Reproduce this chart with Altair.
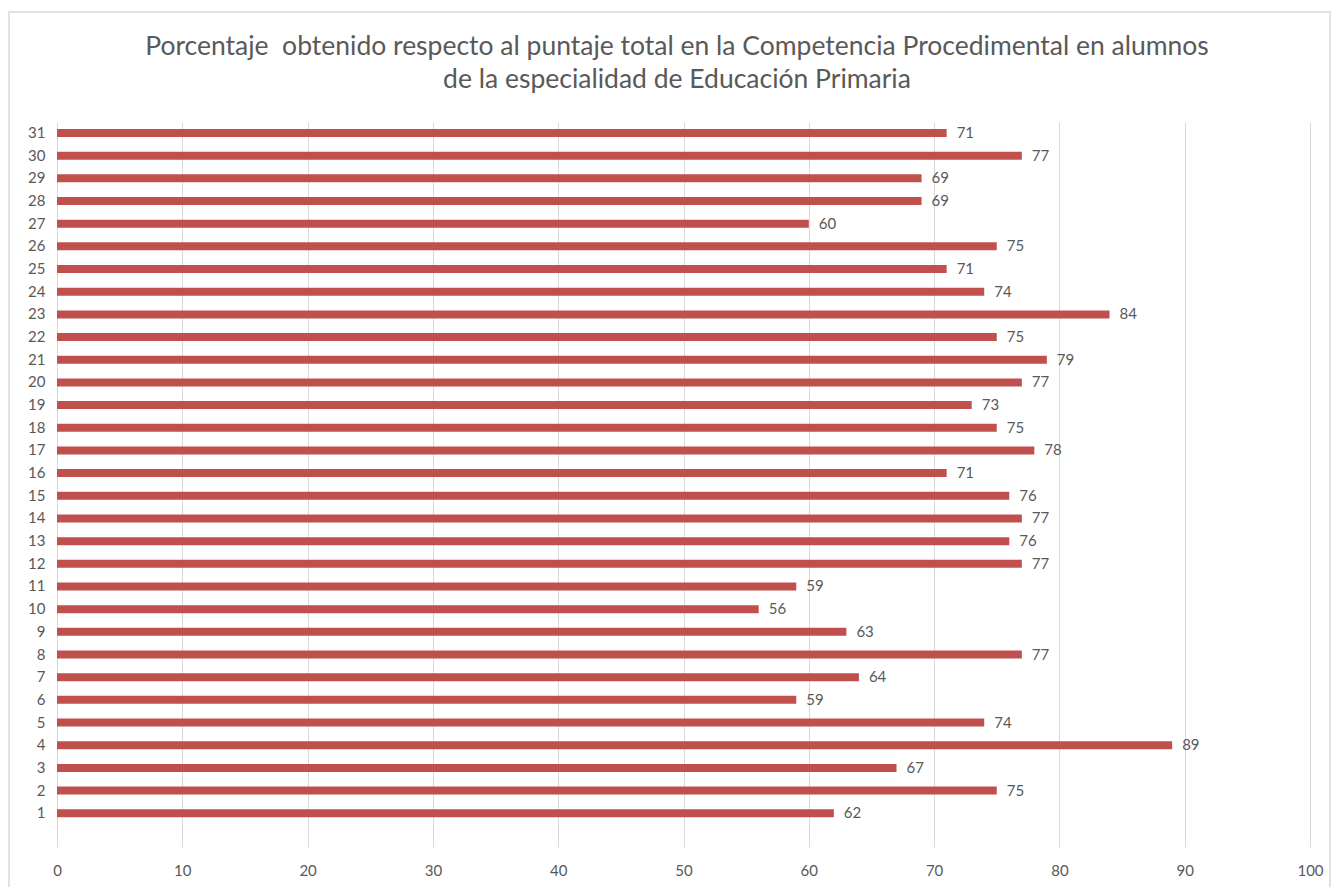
import altair as alt
import pandas as pd

alumnos = list(range(1, 32))
porcentaje = [62, 75, 67, 89, 74, 59, 64, 77, 63, 56, 59, 77, 76, 77, 76, 71,
              78, 75, 73, 77, 79, 75, 84, 74, 71, 75, 60, 69, 69, 77, 71]
x_ticks = [0, 10, 20, 30, 40, 50, 60, 70, 80, 90, 100]
title_lines = ["Porcentaje\u00a0 obtenido respecto al puntaje total en la Competencia Procedimental en alumnos",
               "de la especialidad de Educación Primaria"]

df = pd.DataFrame({"alumno": alumnos, "pct": porcentaje})

FONT = "Lato"
GREY = "#595959"

base = alt.Chart(df)

xscale = alt.Scale(domain=[0, 100], nice=False)
yscale = alt.Scale(paddingInner=0.647, paddingOuter=0.81, align=0.19)
ysort = "descending"

bars = base.mark_bar(color="#C0504D").encode(
    x=alt.X("pct:Q", scale=xscale,
            axis=alt.Axis(values=x_ticks, title=None, grid=True, gridColor="#d9d9d9",
                          domain=False, ticks=False, labelPadding=16, labelFlush=False,
                          labelFont=FONT, labelFontSize=15, labelColor=GREY)),
    y=alt.Y("alumno:O", scale=yscale, sort=ysort,
            axis=alt.Axis(title=None, grid=False, domain=False,
                          ticks=False, labelPadding=12, labelFont=FONT,
                          labelFontSize=15, labelColor=GREY, labelAngle=0)),
)

labels = base.mark_text(align="left", baseline="middle", dx=10, font=FONT,
                        fontSize=15, color=GREY).encode(
    x=alt.X("pct:Q", scale=xscale),
    y=alt.Y("alumno:O", scale=yscale, sort=ysort, bandPosition=0.5),
    text=alt.Text("pct:Q"),
)

frame = alt.Chart(pd.DataFrame({"a": [0]})).mark_rect(
    fill=None, stroke="#d9d9d9", strokeWidth=1.5, clip=False
).encode(
    x=alt.value(-48), x2=alt.value(1273), y=alt.value(-110), y2=alt.value(790)
)

t1 = alt.Chart(pd.DataFrame({"t": [title_lines[0]]})).mark_text(
    font=FONT, fontSize=26.5, color=GREY, align="center", baseline="middle"
).encode(x=alt.value(620), y=alt.value(-75), text="t:N")
t2 = alt.Chart(pd.DataFrame({"t": [title_lines[1]]})).mark_text(
    font=FONT, fontSize=26.5, color=GREY, align="center", baseline="middle"
).encode(x=alt.value(620), y=alt.value(-42), text="t:N")

chart = alt.layer(frame, bars, labels, t1, t2).properties(
    width=1253,
    height=725,
    autosize=alt.AutoSizeParams(type="none"),
    padding={"left": 49, "top": 114, "right": 25, "bottom": 40},
).configure_view(stroke=None)

chart.save("out.html", embed_options={"renderer": "svg", "actions": False})
